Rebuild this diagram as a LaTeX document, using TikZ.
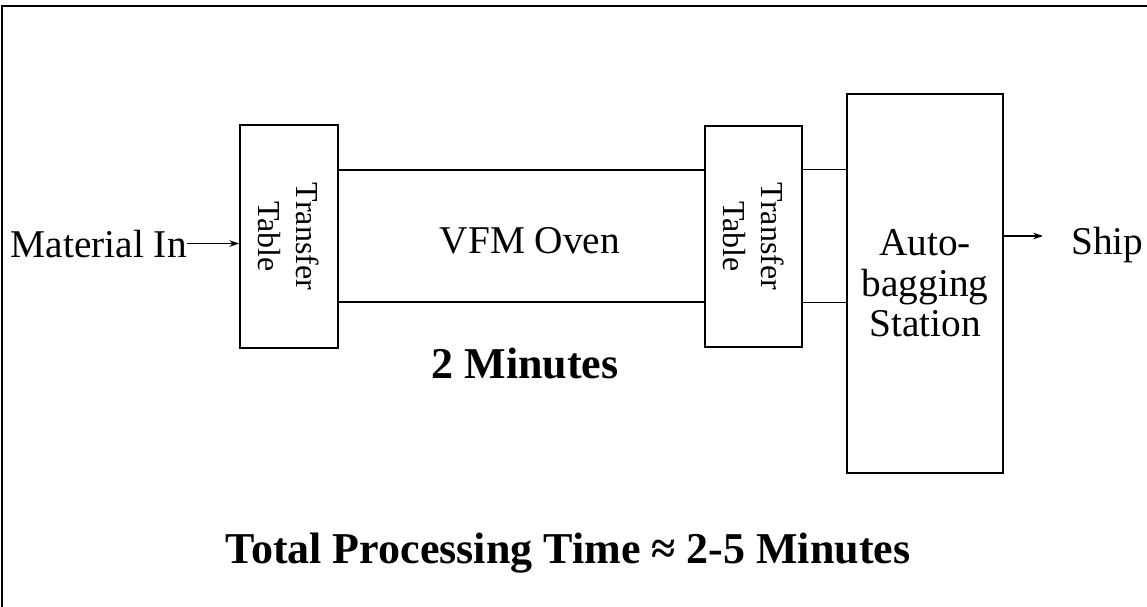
\documentclass[tikz,border=0pt]{standalone}
\usepackage{fontspec}
\setmainfont{Liberation Serif}
\usetikzlibrary{arrows.meta}
\begin{document}
\begin{tikzpicture}[x=0.75pt,y=-0.75pt,
  box/.style={draw,line width=1.1pt,inner sep=0pt},
  conn/.style={line width=1.1pt},
  arr/.style={line width=0.8pt,-{Stealth[length=7.5pt,width=5pt]}},
  frame/.style={line width=1.5pt},
  lbl/.style={font=\fontsize{29.5}{30.4}\selectfont,inner sep=0pt},
  ttlbl/.style={font=\fontsize{24}{28.5}\selectfont,inner sep=0pt,align=center,rotate=-90},
  bold/.style={font=\fontsize{33}{38}\selectfont\bfseries,inner sep=0pt}]
\useasboundingbox (0,0) rectangle (1147,607);
% frame
\coordinate (ftl) at (2,6);
\coordinate (ftr) at (1147,6);
\coordinate (fbl) at (2,607);
\draw[frame] (ftr) -- (ftl) -- (fbl);
% boxes
\node[box,minimum width=98*0.75pt,minimum height=223*0.75pt] (ltt) at (289,236.5) {};
\node[box,minimum width=367*0.75pt,minimum height=132*0.75pt] (oven) at (521.5,236) {};
\node[box,minimum width=97*0.75pt,minimum height=221*0.75pt] (rtt) at (753.5,236.5) {};
\node[box,minimum width=156*0.75pt,minimum height=379*0.75pt] (ab) at (925,283.5) {};
% texts
\node[ttlbl] (ltttext) at (ltt.center) {Transfer\\Table};
\node[ttlbl] (rtttext) at (rtt.center) {Transfer\\Table};
\node[lbl] (oventext) at (530,241) {VFM Oven};
\node[lbl,align=center] (abtext) at (ab.center) {Auto-\\bagging\\Station};
\node[lbl,anchor=base east] (min) at (187,257) {Material In};
\node[lbl,anchor=base west] (ship) at (1071,254) {Ship};
\node[bold,anchor=base] (two) at (525,378) {2 Minutes};
\node[bold,anchor=base] (total) at (568,563) {Total Processing Time ≈ 2-5 Minutes};
% connectors
\draw[arr] (min.east) -- (min.east -| ltt.west);
\draw[conn] (rtt.east |- oven.north) -- (ab.west |- oven.north);
\draw[conn] (rtt.east |- oven.south) -- (ab.west |- oven.south);
\coordinate (shipin) at (1043,236);
\draw[arr] (ab.east |- shipin) -- (shipin);
\end{tikzpicture}
\end{document}
